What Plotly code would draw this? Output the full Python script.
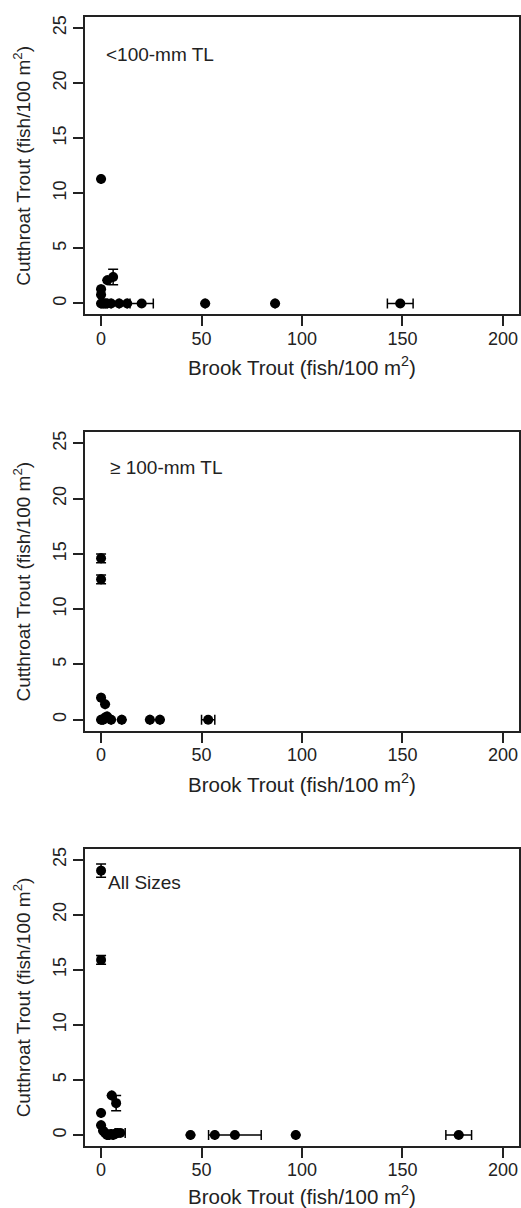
import plotly.graph_objects as go

# ---- data ----
# Panel 1: <100-mm TL
bt_small = [0, 0, 0, 3.1, 6.0, 0, 1, 2, 3, 5, 9, 13, 20.2, 51.8, 86.6, 148.9]
ct_small = [11.3, 1.3, 0.8, 2.1, 2.4, 0, 0, 0, 0, 0, 0, 0, 0, 0, 0, 0]
bt_small_err = [0, 0, 0, 0, 0, 0, 0, 0, 0, 0, 0, 0, 5.8, 0, 0, 6.4]
ct_small_err = [0, 0, 0, 0, 0.7, 0, 0, 0, 0, 0, 0, 0, 0, 0, 0, 0]

# Panel 2: >=100-mm TL
bt_large = [0, 0, 0, 2, 0, 1, 2, 3, 5, 10.3, 24.3, 29.3, 53.3]
ct_large = [14.6, 12.7, 2.0, 1.4, 0, 0, 0.2, 0.3, 0, 0, 0, 0, 0]
bt_large_err = [0, 0, 0, 0, 0, 0, 0, 0, 0, 0, 0, 0, 3.3]
ct_large_err = [0.4, 0.4, 0, 0, 0, 0, 0, 0, 0, 0, 0, 0, 0]

# Panel 3: All sizes
bt_all = [0, 0, 0, 0, 5.3, 7.5, 1, 2, 3, 4, 5, 6, 7, 8, 9.5, 44.5, 56.6, 66.6, 96.9, 178]
ct_all = [24.0, 15.9, 2.0, 0.9, 3.6, 2.9, 0.4, 0.2, 0, 0, 0.1, 0, 0.1, 0.2, 0.2, 0, 0, 0, 0, 0]
bt_all_err = [0, 0, 0, 0, 0, 0, 0, 0, 0, 0, 0, 0, 0, 0, 2.5, 0, 0, 13.1, 0, 6.4]
ct_all_err = [0.6, 0.4, 0, 0, 0, 0.7, 0, 0, 0, 0, 0, 0, 0, 0, 0, 0, 0, 0, 0, 0]

panel_labels = ["<100-mm TL", "\u2265 100-mm TL", "All Sizes"]
label_pos = [(1.5, 22.6), (3.6, 22.8), (2.5, 22.9)]
x_ticks = [0, 50, 100, 150, 200]
y_ticks = [0, 5, 10, 15, 20, 25]
x_title = "Brook Trout (fish/100 m<sup>2</sup>)"
y_title = "Cutthroat Trout (fish/100 m<sup>2</sup>)"

W, H = 521, 1208
FONT = "Liberation Sans, Arial, sans-serif"
TXT = "#222222"
LINE = "#222222"

panels = [
    (bt_small, ct_small, bt_small_err, ct_small_err),
    (bt_large, ct_large, bt_large_err, ct_large_err),
    (bt_all, ct_all, bt_all_err, ct_all_err),
]
# plot-area pixel extents (top, bottom)
tops_bottoms = [(15, 313), (431, 730), (848, 1146)]
title_gap = [52, 52, 49]
x_left, x_right = 85, 519

fig = go.Figure()
annotations = []
for i, (xs, ys, xe, ye) in enumerate(panels):
    n = "" if i == 0 else str(i + 1)
    fig.add_trace(go.Scatter(
        x=xs, y=ys, mode="markers",
        marker=dict(color="black", size=10),
        error_x=dict(type="data", array=xe, visible=True, color="black", thickness=1.5, width=5),
        error_y=dict(type="data", array=ye, visible=True, color="black", thickness=1.5, width=5),
        xaxis="x" + n, yaxis="y" + n, showlegend=False, hoverinfo="x+y",
    ))
    top, bot = tops_bottoms[i]
    ydom = [1 - bot / H, 1 - top / H]
    xdom = [x_left / W, x_right / W]
    axcommon = dict(showline=True, mirror=True, linecolor=LINE, linewidth=1.5,
                    ticks="outside", ticklen=10, tickwidth=1.5, tickcolor=LINE,
                    showgrid=False, zeroline=False,
                    tickfont=dict(family=FONT, size=18, color=TXT))
    fig.update_layout(**{
        "xaxis" + n: dict(domain=xdom, range=[-8, 208], tickvals=x_ticks,
                          anchor="y" + n, ticklabelstandoff=-3, **axcommon),
        "yaxis" + n: dict(domain=ydom, range=[-1, 26], tickvals=y_ticks,
                          tickangle=-90, anchor="x" + n, **axcommon),
    })
    # panel label
    lx, ly = label_pos[i]
    annotations.append(dict(x=lx, y=ly, xref="x" + n, yref="y" + n, text=panel_labels[i],
                            showarrow=False, xanchor="left", yanchor="middle",
                            font=dict(family=FONT, size=19, color=TXT)))
    # axis titles
    annotations.append(dict(x=(x_left + x_right) / 2 / W, y=1 - (bot + title_gap[i]) / H,
                            xref="paper", yref="paper", text=x_title, showarrow=False,
                            xanchor="center", yanchor="middle",
                            font=dict(family=FONT, size=20.5, color=TXT)))
    annotations.append(dict(x=22 / W, y=1 - (top + bot) / 2 / H,
                            xref="paper", yref="paper", text=y_title, showarrow=False,
                            textangle=-90, xanchor="center", yanchor="middle",
                            font=dict(family=FONT, size=19, color=TXT)))

fig.update_layout(
    width=W, height=H,
    margin=dict(l=0, r=0, t=0, b=0),
    paper_bgcolor="white", plot_bgcolor="white",
    annotations=annotations,
    font=dict(family=FONT, color=TXT),
)

fig.write_html("out.html", config={"displayModeBar": False},
               post_script="document.body.style.margin='0';document.body.style.overflow='hidden';")
